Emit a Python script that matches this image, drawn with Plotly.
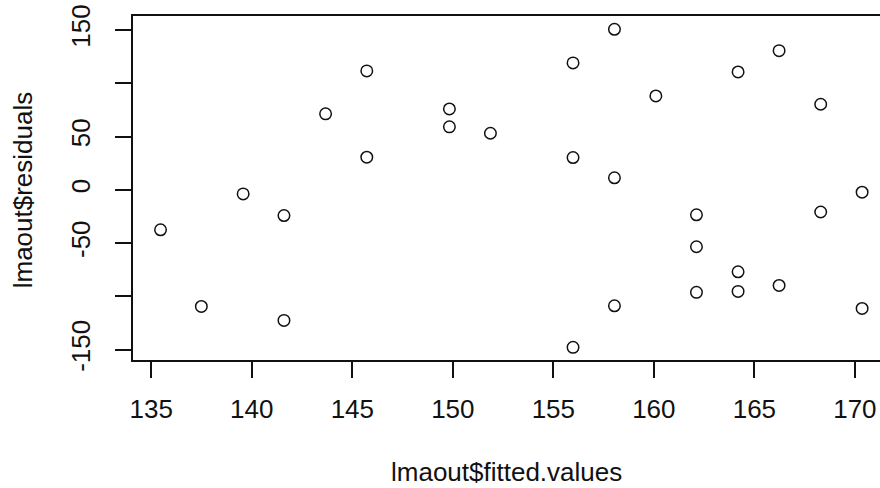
import plotly.graph_objects as go

# Fitted values and residuals of the linear model
fitted_values = [135.46, 137.49, 139.57, 141.60, 141.60, 143.67, 145.72, 145.72,
                 149.83, 149.83, 151.87, 155.98, 155.98, 155.98, 158.04, 158.04,
                 158.04, 160.10, 162.12, 162.12, 162.12, 164.19, 164.19, 164.19,
                 166.23, 166.23, 168.30, 168.30, 170.36, 170.36]
residuals = [-37.5, -109.4, -3.8, -24.1, -122.5, 71.3, 111.6, 30.6,
             75.9, 59.1, 53.1, 119.1, 30.3, -147.8, 150.6, 11.3,
             -108.8, 88.1, -23.4, -53.4, -96.2, 110.6, -76.9, -95.3,
             130.6, -89.7, 80.3, -20.8, -2.2, -111.3]

x_ticks = [135, 140, 145, 150, 155, 160, 165, 170]
y_ticks = [-150, -100, -50, 0, 50, 100, 150]
y_tick_text = ["-150", "", "-50", "0", "50", "", "150"]

FONT = "Liberation Sans, Arial, Helvetica, sans-serif"
INK = "#111111"
FS = 26

fig = go.Figure(go.Scatter(
    x=fitted_values, y=residuals, mode="markers",
    marker=dict(symbol="circle-open", size=11.5, color=INK,
                line=dict(width=1.5, color=INK)),
    hoverinfo="x+y",
))

axis_common = dict(
    showgrid=False, zeroline=False, showline=True, linecolor=INK, linewidth=1.5,
    ticks="outside", ticklen=16, tickwidth=1.5, tickcolor=INK,
    tickfont=dict(family=FONT, size=FS, color=INK),
)

fig.update_layout(
    width=880, height=488,
    margin=dict(l=133, r=0, t=16, b=128),
    paper_bgcolor="white", plot_bgcolor="white",
    showlegend=False,
    xaxis=dict(range=[134.09, 171.25], tickvals=x_ticks, mirror=True,
               ticklabelstandoff=9, **axis_common),
    yaxis=dict(range=[-159.65, 163.1], tickvals=y_ticks, ticktext=y_tick_text,
               tickangle=-90, ticklabelstandoff=15, **axis_common),
    annotations=[
        dict(text="lmaout$fitted.values", xref="paper", yref="paper",
             x=0.5, y=-0.327, xanchor="center", yanchor="middle",
             showarrow=False, font=dict(family=FONT, size=FS, color=INK)),
        dict(text="lmaout$residuals", xref="paper", yref="paper",
             x=-0.148, y=0.4946, xanchor="center", yanchor="middle", textangle=-90,
             showarrow=False, font=dict(family=FONT, size=FS, color=INK)),
    ],
)

fig.write_html("out.html")
